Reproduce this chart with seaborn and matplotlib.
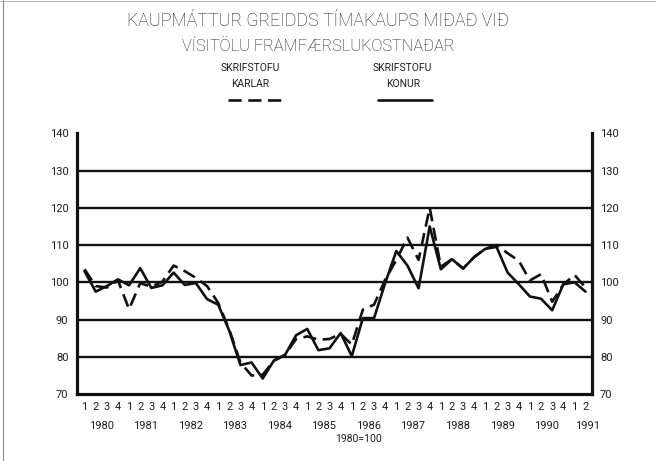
import pandas as pd
import seaborn as sns
import matplotlib.pyplot as plt
from matplotlib.lines import Line2D

# quarterly index, 1980 = 100, from 1980 Q1 to 1991 Q2
years = ["1980", "1981", "1982", "1983", "1984", "1985",
         "1986", "1987", "1988", "1989", "1990", "1991"]
quarters = ["1", "2", "3", "4"] * 11 + ["1", "2"]

karlar = [103.5, 99.0, 98.6, 100.5, 92.8, 99.8, 98.8, 100.2,
          104.5, 103.0, 101.2, 99.0, 94.5, 87.3, 78.5, 75.0,
          75.2, 79.0, 80.5, 84.8, 85.5, 84.6, 84.8, 86.2,
          83.3, 92.7, 94.0, 100.7, 106.0, 112.0, 106.0, 120.0,
          104.2, 106.2, 103.7, 106.8, 109.0, 110.0, 107.8, 105.8,
          100.5, 102.2, 94.8, 99.4, 102.0, 98.6]

konur = [103.0, 97.5, 99.0, 100.8, 99.2, 103.8, 98.5, 99.2,
         102.6, 99.3, 99.8, 95.5, 94.0, 87.0, 77.8, 78.5,
         74.2, 79.0, 80.5, 85.8, 87.5, 81.8, 82.3, 86.4,
         80.2, 90.4, 90.4, 99.8, 108.4, 104.5, 98.4, 115.0,
         103.5, 106.2, 103.7, 106.8, 109.0, 109.5, 102.6, 99.5,
         96.2, 95.6, 92.5, 99.5, 100.0, 97.5]

n = len(konur)
df = pd.DataFrame({
    "t": list(range(n)) * 2,
    "visitala": karlar + konur,
    "hopur": ["karlar"] * n + ["konur"] * n,
})

sns.set_style("white")
plt.rcParams["font.family"] = ["Roboto", "DejaVu Sans"]
ink = "#111111"
txt = "#1e1e1e"

fig = plt.figure(figsize=(6.56, 4.61), dpi=100)
ax = fig.add_axes([0.117, 0.145, 0.785, 0.566])

sns.lineplot(data=df, x="t", y="visitala", hue="hopur", style="hopur",
             palette={"karlar": ink, "konur": ink},
             dashes={"karlar": (5, 2.5), "konur": ""},
             linewidth=1.9, legend=False, ax=ax)

ax.set_xlim(-0.7, 45.55)
ax.set_ylim(70, 140)
ax.set_xlabel("")
ax.set_ylabel("")

# y axis, labels on both sides
ax.set_yticks(range(70, 141, 10))
ax.tick_params(axis="y", length=0, labelsize=8, labelcolor=txt,
               labelleft=True, labelright=True, pad=6)
ax.grid(axis="y", color=ink, linewidth=1.7)
ax.get_ygridlines()[-1].set_visible(False)
ax.get_ygridlines()[0].set_visible(False)

# x axis: quarters, small ticks every half year
ax.set_xticks(range(n))
ax.set_xticklabels(quarters)
ax.set_xticks(range(0, n, 2), minor=True)
ax.tick_params(axis="x", which="major", length=0, labelsize=8,
               labelcolor=txt, pad=6)
ax.tick_params(axis="x", which="minor", direction="in", length=4,
               width=1, color=ink, bottom=True)
for k, y in enumerate(years):
    pos = 4 * k + 1.5 if k < len(years) - 1 else 45.2
    ax.text(pos, -0.122, y, transform=ax.get_xaxis_transform(),
            ha="center", va="center", fontsize=8, color=txt)

for side in ["left", "right", "bottom"]:
    ax.spines[side].set_color(ink)
    ax.spines[side].set_linewidth(2.3)
ax.spines["top"].set_visible(False)

# titles and legend
fig.text(0.485, 0.955, "KAUPMÁTTUR GREIDDS TÍMAKAUPS MIÐAÐ VIÐ",
         ha="center", va="center", fontsize=12.8, color=txt,
         fontweight="light")
fig.text(0.485, 0.9, "VÍSITÖLU FRAMFÆRSLUKOSTNAÐAR",
         ha="center", va="center", fontsize=11.8, color=txt,
         fontweight="light")
fig.text(0.381, 0.852, "SKRIFSTOFU", ha="center", va="center",
         fontsize=7.5, color=txt)
fig.text(0.381, 0.817, "KARLAR", ha="center", va="center",
         fontsize=7.5, color=txt)
fig.text(0.614, 0.852, "SKRIFSTOFU", ha="center", va="center",
         fontsize=7.5, color=txt)
fig.text(0.614, 0.817, "KONUR", ha="center", va="center",
         fontsize=7.5, color=txt)
fig.add_artist(Line2D([0.348, 0.428], [0.783, 0.783], color=ink,
                      linewidth=1.9, dashes=(5, 2.5)))
fig.add_artist(Line2D([0.576, 0.658], [0.783, 0.783], color=ink,
                      linewidth=1.9))
fig.text(0.546, 0.047, "1980=100", ha="center", va="center",
         fontsize=7.5, color=txt)

# thin page edge as in the scanned original
fig.add_artist(Line2D([0.004, 0.004], [0.0, 1.0], color="#888888",
                      linewidth=0.8))
fig.add_artist(Line2D([0.0, 1.0], [0.997, 0.997], color="#aaaaaa",
                      linewidth=0.6))

fig.savefig("out.png", dpi=100)
